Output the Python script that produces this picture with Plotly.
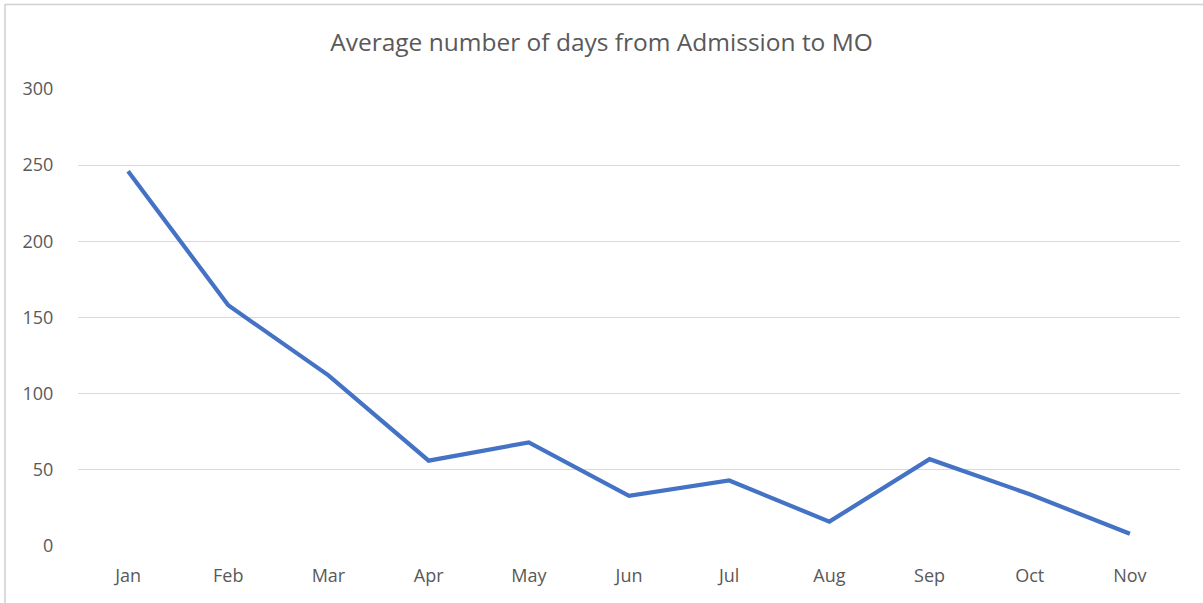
import plotly.graph_objects as go

months = ["Jan", "Feb", "Mar", "Apr", "May", "Jun", "Jul", "Aug", "Sep", "Oct", "Nov"]
avg_days = [246, 158, 112, 56, 68, 33, 43, 16, 57, 34, 8]
y_ticks = [0, 50, 100, 150, 200, 250, 300]

fig = go.Figure()
fig.add_trace(go.Scatter(
    x=months, y=avg_days, mode="lines",
    line=dict(color="#4472C4", width=4.2, shape="linear"),
    hoverinfo="x+y",
))

W, H = 1203, 603
L, R, T, B = 78, 23, 89, 57
pw = W - L - R
ph = H - T - B

def px_x(p):
    return (p - L) / pw

def px_y(p):
    return (H - B - p) / ph

fig.update_layout(
    width=W, height=H,
    margin=dict(l=L, r=R, t=T, b=B),
    paper_bgcolor="white", plot_bgcolor="white",
    font=dict(family="Open Sans, sans-serif", color="#595959", size=18),
    title=dict(text="Average number of days from Admission to MO",
               x=0.5, xanchor="center", y=1 - 42 / H, yanchor="middle",
               font=dict(size=24.5, color="#595959")),
    showlegend=False,
    xaxis=dict(type="category", range=[-0.5, 10.5], showgrid=False,
               showline=False, zeroline=False, ticks="outside", ticklen=13,
               tickcolor="rgba(0,0,0,0)", tickfont=dict(size=18)),
    yaxis=dict(range=[0, 300], tickvals=y_ticks, showgrid=True,
               gridcolor="#D9D9D9", gridwidth=1, zeroline=False,
               showline=False, ticks="outside", ticklen=20,
               tickcolor="rgba(0,0,0,0)", tickfont=dict(size=18)),
    shapes=[dict(type="rect", xref="paper", yref="paper",
                 x0=px_x(5), x1=px_x(W + 5),
                 y0=px_y(H + 5), y1=px_y(4.5),
                 line=dict(color="#D0D0D0", width=1.5), layer="above")],
)

fig.write_html("out.html", config={"displayModeBar": False},
               post_script="document.body.style.margin='0';document.body.style.overflow='hidden';")
